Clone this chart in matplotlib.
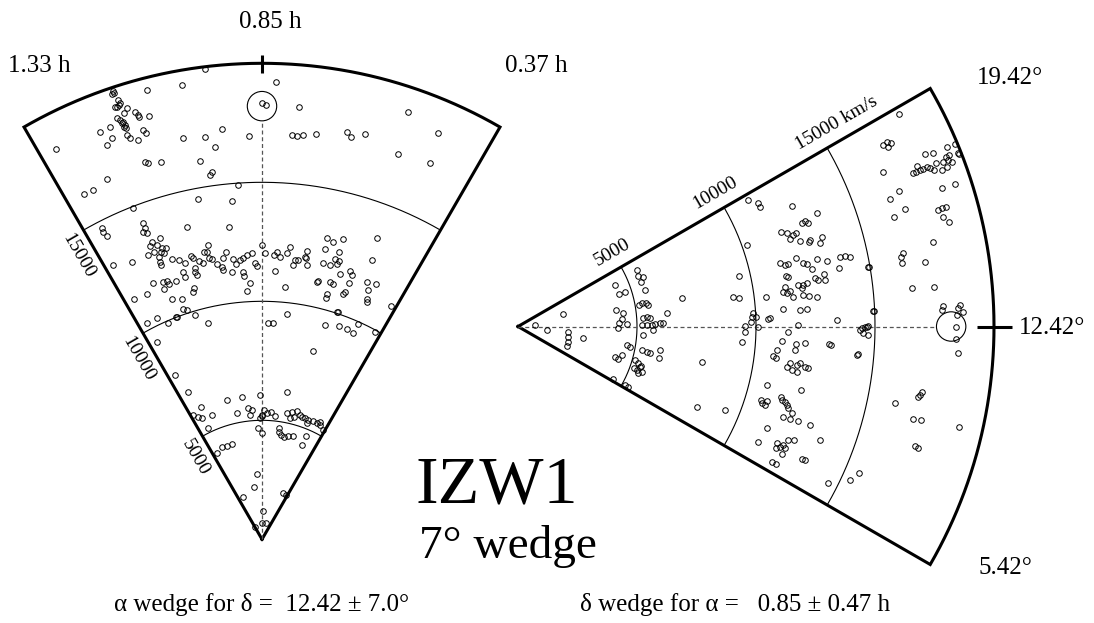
import numpy as np
import matplotlib
matplotlib.use("Agg")
import matplotlib.pyplot as plt
from matplotlib.patches import Circle

plt.rcParams['font.family'] = ['Liberation Serif', 'DejaVu Serif']

# survey slice parameters
ra_center, ra_half = 0.85, 0.47      # hours
dec_center, dec_half = 12.42, 7.0    # degrees
cz_max = 20000
cz_arcs = [5000, 10000, 15000]
cz_cluster = 18200

# alpha wedge galaxies: (RA [h], cz [km/s])
alpha_gals = np.array([
    (0.958, 19900), (0.823, 19240), (1.006, 19380), (1.074, 19490), (1.139, 19850),
    (1.138, 19740), (1.142, 19730), (1.134, 19420), (1.133, 19270), (1.144, 19200),
    (1.135, 19210), (1.140, 19170), (1.123, 18980), (1.131, 18820), (1.109, 18720),
    (1.105, 18570), (1.085, 18420), (1.104, 18490), (1.148, 18720), (1.143, 18600),
    (1.142, 18450), (1.137, 18340), (1.137, 18190), (1.140, 18280), (1.139, 18500),
    (1.139, 17910), (1.135, 17740), (1.167, 18480), (1.190, 18410), (1.171, 18020),
    (1.186, 17800), (1.103, 17910), (1.100, 17740), (1.120, 17570), (1.286, 18530),
    (0.773, 18250), (0.555, 18960), (0.937, 17320), (0.976, 17070), (1.024, 17170),
    (0.957, 16610), (0.879, 16970), (0.784, 17030), (0.772, 17020), (0.759, 17080),
    (0.731, 17190), (0.666, 17470), (0.655, 17320), (0.626, 17560), (0.484, 18610),
    (0.546, 17150), (0.473, 17300), (1.120, 16610), (1.114, 16500), (1.085, 16420),
    (0.996, 16110), (0.972, 15590), (0.977, 15460), (1.216, 16470), (1.277, 16310),
    (1.255, 16310), (0.910, 14920), (0.850, 18320), (0.842, 18250), (1.016, 14550),
    (0.930, 14270), (1.182, 14950), (1.277, 14700), (1.278, 14540), (1.275, 14320),
    (1.172, 14190), (1.173, 13960), (1.174, 13740), (1.182, 13860), (1.061, 13480),
    (0.945, 13210), (1.143, 13380), (1.169, 13340), (1.177, 13200), (1.157, 13130),
    (1.148, 12930), (1.135, 12900), (1.155, 12790), (1.146, 12700), (1.163, 12640),
    (1.192, 12870), (1.172, 12910), (1.297, 13120), (1.244, 12890), (1.166, 12430),
    (1.168, 12290), (1.130, 12360), (1.108, 12240), (1.094, 12040), (1.071, 12270),
    (1.065, 12160), (1.049, 11990), (1.038, 11860), (1.016, 12010), (1.008, 11960),
    (1.020, 12310), (1.029, 12300), (1.012, 12570), (0.996, 11710), (0.982, 11580),
    (0.973, 11920), (0.978, 11430), (0.962, 12150), (0.951, 11320), (0.944, 11840),
    (0.936, 11610), (0.920, 11770), (0.911, 11860), (0.898, 11960), (0.882, 12030),
    (0.913, 11270), (0.910, 11090), (0.892, 10770), (0.905, 10450), (0.873, 11600),
    (0.867, 11500), (0.850, 12370), (0.841, 12020), (1.107, 11720), (1.106, 11500),
    (1.070, 11590), (1.067, 11440), (1.068, 11730), (1.212, 11700), (1.181, 11580),
    (1.166, 11560), (1.163, 11400), (1.138, 11440), (1.185, 11300), (1.173, 10790),
    (1.140, 10650), (1.096, 10780), (1.088, 10930), (1.288, 11430), (1.243, 11370),
    (0.812, 11960), (0.804, 12100), (0.793, 11900), (0.773, 12060), (0.764, 12350),
    (0.807, 11290), (0.769, 10660), (0.750, 11600), (0.744, 11820), (0.734, 11830),
    (0.712, 12260), (0.714, 12010), (0.703, 11680), (0.711, 11950), (0.660, 12960),
    (0.639, 12860), (0.613, 13070), (0.658, 12480), (0.614, 12490), (0.621, 12170),
    (0.656, 11870), (0.632, 11870), (0.612, 11970), (0.609, 12130), (0.593, 11610),
    (0.565, 11860), (0.556, 11730), (0.555, 11370), (0.618, 11190), (0.605, 11130),
    (0.657, 11110), (0.662, 11040), (0.618, 10650), (0.617, 10500), (0.559, 10950),
    (0.564, 10840), (0.503, 11660), (0.473, 11740), (0.488, 11390), (0.481, 11010),
    (0.514, 12610), (0.522, 13540), (0.397, 11210), (0.749, 9510), (0.565, 10060),
    (1.111, 9840), (1.135, 10140), (1.179, 10020), (1.288, 10280), (1.249, 10290),
    (1.217, 9890), (1.181, 10030), (1.146, 10210), (1.069, 9350), (1.287, 9400),
    (0.824, 9100), (0.803, 9110), (0.593, 9390), (0.538, 9530), (0.504, 9520),
    (0.476, 9470), (0.472, 9910), (0.560, 10090), (0.477, 10910), (0.403, 9930),
    (0.614, 8210), (1.287, 7810), (1.266, 6930), (1.237, 6130), (1.303, 5970),
    (1.280, 5810), (1.265, 5680), (1.195, 5630), (1.255, 5180), (1.069, 6030),
    (0.977, 6050), (0.862, 6060), (1.027, 5430), (0.944, 5530), (0.921, 5450),
    (0.936, 5250), (0.836, 5430), (0.850, 5180), (0.816, 5300), (0.789, 5370),
    (0.756, 5210), (0.865, 5080), (0.850, 5220), (0.701, 6290), (0.676, 5390),
    (0.645, 5510), (0.613, 5600), (0.584, 5460), (0.621, 5320), (0.646, 5220),
    (0.544, 5400), (0.518, 5380), (0.484, 5430), (0.456, 5410), (0.439, 5510),
    (0.429, 5390), (0.395, 5250), (0.520, 5220), (0.569, 5420), (0.880, 4670),
    (0.850, 4480), (0.711, 4720), (0.691, 4450), (0.660, 4410), (0.626, 4480),
    (0.586, 4540), (0.489, 4720), (0.492, 4300), (0.707, 4580), (1.282, 4110),
    (1.218, 4240), (1.170, 4180), (1.126, 4200), (0.923, 2750), (0.987, 2210),
    (1.237, 1940), (0.465, 2150), (0.404, 2120), (0.809, 1200), (0.850, 670),
    (0.631, 690), (1.305, 610),
])

# delta wedge galaxies: (Dec [deg], cz [km/s])
delta_gals = np.array([
    (13.60, 720), (10.80, 1215), (16.02, 1975), (11.04, 2125), (9.71, 2130),
    (8.50, 2210), (7.33, 2200), (10.03, 2790), (17.83, 4430), (16.58, 4460),
    (16.62, 4730), (18.36, 5520), (17.73, 5480), (17.09, 5500), (17.42, 5660),
    (16.16, 5550), (14.77, 5160), (14.89, 5310), (14.88, 5460), (14.62, 5520),
    (14.66, 4160), (14.09, 4460), (13.35, 4370), (12.84, 4250), (12.73, 4570),
    (12.18, 4220), (13.29, 5280), (13.44, 5420), (13.25, 5560), (12.58, 5200),
    (12.58, 5410), (12.57, 5620), (12.63, 5760), (12.72, 5970), (12.77, 6110),
    (13.60, 6270), (12.07, 5690), (11.51, 5280), (14.70, 6980), (10.17, 4630),
    (10.04, 4780), (8.39, 4270), (8.19, 4430), (8.83, 4520), (9.91, 5290),
    (9.83, 5510), (9.80, 5650), (10.23, 6050), (9.45, 6070), (8.69, 5110),
    (8.45, 5290), (8.16, 5400), (7.72, 5310), (7.46, 5420), (7.74, 5530),
    (8.27, 5430), (7.81, 5190), (5.74, 5280), (5.73, 5120), (5.66, 4580),
    (9.89, 7860), (19.13, 11040), (18.78, 11360), (18.56, 11350), (17.96, 12570),
    (17.26, 13420), (17.08, 12690), (17.14, 12850), (17.01, 12950), (17.05, 11740),
    (16.88, 11950), (16.57, 12000), (16.71, 12190), (16.74, 12320), (16.37, 12390),
    (16.27, 12800), (16.21, 12750), (16.26, 13310), (16.01, 13160), (16.98, 10230),
    (15.58, 11320), (15.45, 11510), (15.46, 11660), (15.64, 12030), (15.33, 12280),
    (15.27, 12410), (14.99, 12570), (15.37, 12890), (15.23, 13260), (15.25, 13840),
    (15.26, 14060), (15.19, 14260), (14.82, 13720), (14.91, 11460), (14.86, 11530),
    (14.57, 12640), (14.47, 12770), (14.43, 13050), (14.69, 13050), (14.65, 14970),
    (15.42, 9540), (14.26, 9130), (14.11, 9370), (14.40, 11340), (14.16, 11240),
    (14.06, 11400), (14.17, 11530), (13.86, 11640), (14.38, 11910), (14.35, 12110),
    (14.41, 12270), (14.21, 12030), (13.89, 12060), (13.82, 12310), (13.75, 12610),
    (14.02, 10500), (13.29, 11170), (13.20, 11870), (13.22, 12150), (12.85, 10590),
    (12.80, 10520), (13.20, 9900), (12.98, 9830), (12.70, 9780), (12.45, 9540),
    (12.11, 9540), (11.51, 9420), (12.42, 10100), (12.97, 10010), (12.69, 13390),
    (13.01, 14970), (12.28, 14370), (12.18, 14490), (12.42, 14650), (12.10, 14720),
    (12.47, 11780), (12.16, 11330), (11.70, 11100), (11.58, 11710), (11.29, 11680),
    (11.67, 12080), (11.21, 10940), (10.88, 10770), (10.78, 10920), (10.62, 11530),
    (10.43, 11420), (10.31, 11650), (10.59, 11850), (10.69, 11950), (10.27, 11860),
    (10.53, 12180), (10.51, 12320), (11.67, 13100), (11.63, 13160), (11.30, 14280),
    (11.34, 14350), (9.34, 10760), (8.49, 10660), (8.37, 10730), (8.31, 10890),
    (8.54, 10900), (8.93, 11430), (8.79, 11500), (8.75, 11660), (8.62, 11760),
    (8.49, 11870), (8.31, 12070), (8.03, 11750), (8.02, 12080), (8.09, 12430),
    (8.07, 12950), (9.47, 12180), (7.61, 13560), (6.45, 11200), (6.76, 11950),
    (6.67, 12110), (6.52, 11990), (6.80, 12210), (7.11, 12320), (7.20, 12540),
    (6.70, 12330), (6.40, 12310), (5.87, 12080), (5.87, 12280), (6.57, 13160),
    (6.60, 13300), (7.23, 11290), (6.74, 8240), (7.29, 9380), (6.17, 14610),
    (6.63, 15370), (7.01, 15600), (19.22, 18340), (18.58, 17140), (18.63, 17330),
    (18.54, 17460), (18.46, 17300), (17.78, 18570), (17.73, 18890), (17.73, 19530),
    (17.71, 19900), (17.43, 19880), (17.41, 19900), (17.48, 19500), (17.45, 19340),
    (17.35, 19390), (17.27, 19500), (17.36, 19170), (17.17, 19240), (17.15, 18980),
    (17.40, 18860), (17.23, 18680), (17.32, 18540), (17.38, 18430), (17.37, 18270),
    (17.38, 18130), (17.38, 17940), (17.36, 17820), (17.54, 18060), (17.79, 16650),
    (16.99, 17010), (16.82, 16520), (16.35, 16990), (16.20, 16460), (16.63, 18730),
    (16.63, 19310), (16.03, 18330), (16.06, 18480), (16.05, 18670), (15.80, 18430),
    (15.61, 18650), (15.12, 17790), (14.93, 16460), (14.83, 16350), (14.62, 16350),
    (14.53, 17320), (13.71, 16620), (13.70, 17560), (14.66, 14930), (13.01, 14940),
    (13.06, 17870), (12.94, 17820), (13.07, 18590), (12.97, 18520), (12.86, 18720),
    (12.77, 18440), (12.42, 18400), (12.42, 14580), (12.44, 14720), (12.35, 14440),
    (12.03, 18410), (11.61, 18540), (10.28, 17180), (10.16, 17140), (10.10, 17080),
    (9.73, 16170), (9.34, 17060), (9.37, 17370), (9.44, 19020), (8.51, 17420),
    (8.47, 17580),
])

corner_alpha = ["1.33 h", "0.85 h", "0.37 h"]
corner_delta = ["19.42°", "12.42°", "5.42°"]

OPEN = 30.0            # drawn half opening of each wedge, deg
PX = 476.0 / cz_max    # pixels per km/s
W, H = 1094, 623


def alpha_xy(ra, cz):
    t = np.radians((np.asarray(ra, float) - ra_center) / ra_half * OPEN)
    cz = np.asarray(cz, float)
    return -cz * np.sin(t), cz * np.cos(t)


def delta_xy(dec, cz):
    t = np.radians((np.asarray(dec, float) - dec_center) / dec_half * OPEN)
    cz = np.asarray(cz, float)
    return cz * np.cos(t), cz * np.sin(t)


def draw_wedge(ax, to_xy, lo, hi, center, tick):
    a = np.linspace(lo, hi, 300)
    for cz in cz_arcs:
        x, y = to_xy(a, np.full_like(a, cz))
        ax.plot(x, y, color='k', lw=0.8)
    x, y = to_xy(a, np.full_like(a, cz_max))
    x = np.concatenate([[0], x, [0]])
    y = np.concatenate([[0], y, [0]])
    ax.plot(x, y, color='k', lw=2.2, solid_joinstyle='miter')
    rad = 14.7 / PX
    x, y = to_xy([center, center], [0, cz_cluster - rad])
    ax.plot(x, y, color='#555555', lw=0.9, dashes=(3.2, 2.2))
    cx, cy = to_xy(center, cz_cluster)
    ax.add_patch(Circle((cx, cy), rad, fill=False, lw=0.8, color='k'))
    x, y = to_xy([center, center], tick)
    ax.plot(x, y, color='k', lw=2.2, solid_capstyle='butt')


fig = plt.figure(figsize=(W / 100, H / 100), dpi=100)

# alpha wedge: apex at pixel (262, 539)
axL = fig.add_axes([0, 0, 1, 1])
axL.set_xlim(-262 / PX, (W - 262) / PX)
axL.set_ylim(-(H - 539.3) / PX, 539.3 / PX)
axL.axis('off')
ra_lo, ra_hi = ra_center - ra_half, ra_center + ra_half
draw_wedge(axL, alpha_xy, ra_lo, ra_hi, ra_center, [19600, 20350])
x, y = alpha_xy(alpha_gals[:, 0], alpha_gals[:, 1])
axL.plot(x, y, 'o', ms=4.0, mfc='none', mec='k', mew=0.7)

nrm = np.array([-np.cos(np.radians(OPEN)), -np.sin(np.radians(OPEN))])
for cz in cz_arcs:
    ex, ey = alpha_xy(ra_hi, cz + 5 / PX)
    axL.text(ex + nrm[0] * 17 / PX, ey + nrm[1] * 17 / PX, str(cz),
             rotation=-60, rotation_mode='anchor', ha='left', va='center',
             fontsize=14)

# delta wedge: apex at pixel (518, 326.5)
axR = fig.add_axes([0, 0, 1, 1])
axR.set_xlim(-518 / PX, (W - 518) / PX)
axR.set_ylim(-(H - 326.5) / PX, 326.5 / PX)
axR.axis('off')
dec_lo, dec_hi = dec_center - dec_half, dec_center + dec_half
draw_wedge(axR, delta_xy, dec_lo, dec_hi, dec_center, [19300, 20750])
x, y = delta_xy(delta_gals[:, 0], delta_gals[:, 1])
axR.plot(x, y, 'o', ms=4.0, mfc='none', mec='k', mew=0.7)

nrm = np.array([-np.sin(np.radians(OPEN)), np.cos(np.radians(OPEN))])
for cz in cz_arcs:
    shift = 21 if cz == 15000 else 0
    txt = "15000 km/s" if cz == 15000 else str(cz)
    ex, ey = delta_xy(dec_hi, cz + shift / PX)
    axR.text(ex + nrm[0] * 17 / PX, ey + nrm[1] * 17 / PX, txt,
             rotation=30, rotation_mode='anchor', ha='center', va='center',
             fontsize=14)


def ftext(px, py, s, size=18, ha='center'):
    fig.text(px / W, 1 - py / H, s, fontsize=size, ha=ha, va='baseline')


ftext(39.5, 72, corner_alpha[0])
ftext(270, 28.5, corner_alpha[1])
ftext(536, 72, corner_alpha[2])
ftext(1010, 84, corner_delta[0])
ftext(1052, 334, corner_delta[1])
ftext(1005, 574, corner_delta[2])

ftext(497, 503, "IZW1", size=49)
ftext(508, 558, "7° wedge", size=34)

ftext(262, 611, "α wedge for δ =  12.42 ± 7.0°")
ftext(735, 611, "δ wedge for α =   0.85 ± 0.47 h")

fig.savefig("out.png", dpi=100)
